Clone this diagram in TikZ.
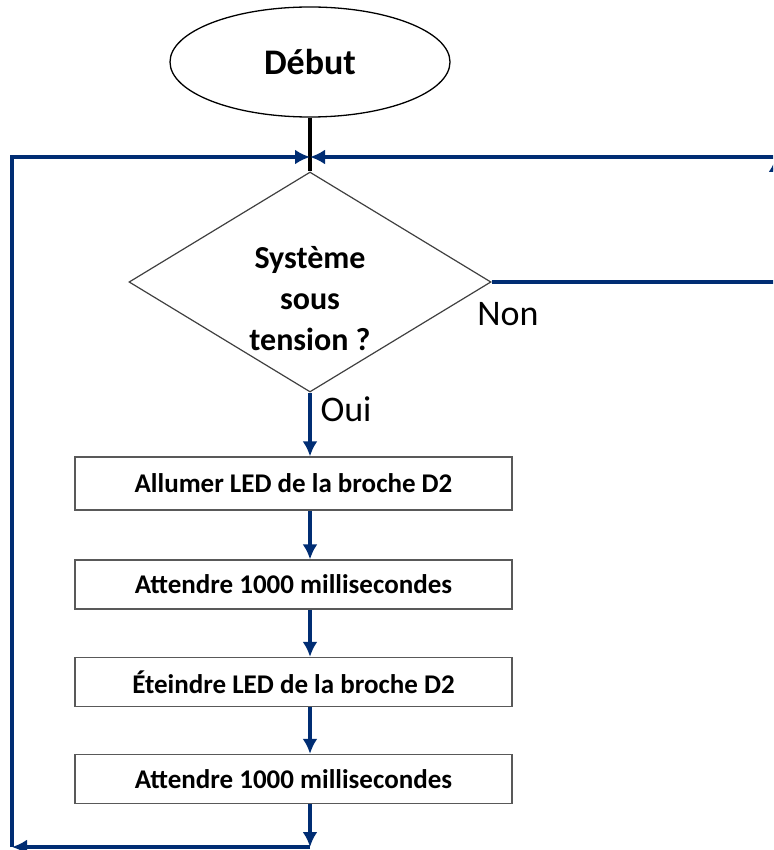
\documentclass[tikz,border=0pt]{standalone}
\usepackage{fontspec}
\setmainfont{Carlito}
\usetikzlibrary{shapes.geometric,arrows.meta}
\definecolor{flowblue}{RGB}{0,45,115}

\tikzset{
  flow/.style={draw=flowblue, line width=3.5pt, -{Latex[length=15pt,width=15pt]}},
  stepbox/.style={draw=black!65, line width=1.3pt, rectangle, minimum width=437pt,
    minimum height=49pt, inner sep=0pt, font=\fontsize{27}{32}\selectfont\bfseries},
}

\begin{document}
\begin{tikzpicture}[x=1pt,y=-1pt]
\clip (0,0) rectangle (773,850);

% Start
\node[draw, ellipse, line width=1.3pt, minimum width=280pt, minimum height=110pt,
  font=\fontsize{36}{40}\selectfont\bfseries] (debut) at (310,62) {Début};

% Test
\node[draw=black!75, diamond, line width=1.2pt, minimum width=362pt, minimum height=220pt,
  inner sep=0pt] (test) at (310,282) {};
\node[align=center, font=\fontsize{32}{41}\selectfont\bfseries] (question) at (310,299)
  {Système\\sous\\tension ?};
\node[font=\fontsize{36}{40}\selectfont] (non) at (508,314) {Non};
\node[font=\fontsize{36}{40}\selectfont] (oui) at (346,409) {Oui};

% Steps
\node[stepbox, minimum height=53pt] (b1) at (293.5,483.5) {Allumer LED de la broche D2};
\node[stepbox] (b2) at (293.5,584.5) {Attendre 1000 millisecondes};
\node[stepbox] (b3) at (293.5,682) {Éteindre LED de la broche D2};
\node[stepbox] (b4) at (293.5,779) {Attendre 1000 millisecondes};

% Loop points
\coordinate (join) at (310,157);
\coordinate (bot) at (310,847);
\coordinate (lowleft) at (12,847);
\coordinate (upright) at (776,157);

% Connectors
\draw[line width=3.5pt] (debut.south) -- (test.north);
\draw[flow] (test.south) -- (b1.north -| test.south);
\draw[flow] (b1.south -| join) -- (b2.north -| join);
\draw[flow] (b2.south -| join) -- (b3.north -| join);
\draw[flow] (b3.south -| join) -- (b4.north -| join);
\draw[flow] (b4.south -| join) -- (bot);
\draw[flow] (bot) -- (lowleft);
\draw[flow] (lowleft) |- (join);
\draw[flow] (test.east) -| (upright);
\draw[flow] (upright) -- (join);
\end{tikzpicture}
\end{document}
